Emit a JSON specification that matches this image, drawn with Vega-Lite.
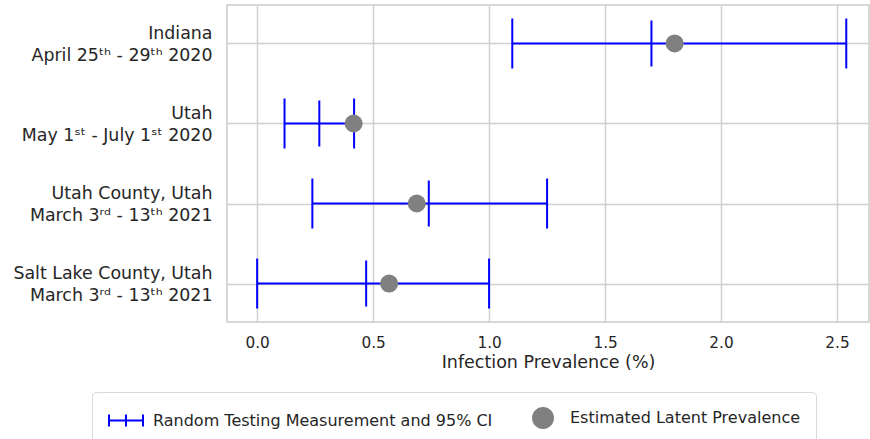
{
  "$schema": "https://vega.github.io/schema/vega-lite/v6.json",
  "width": 642,
  "height": 317,
  "autosize": {"type": "none"},
  "padding": {"left": 227, "top": 5, "right": 1, "bottom": 117},
  "background": "white",
  "config": {
    "font": "DejaVu Sans",
    "view": {"stroke": "#cccccc", "strokeWidth": 1.5},
    "axis": {
      "gridColor": "#d0d0d0",
      "gridWidth": 1.5,
      "domain": false,
      "ticks": false,
      "tickSize": 0,
      "labelColor": "#262626",
      "titleColor": "#262626"
    },
    "legend": {
      "orient": "none",
      "legendX": -135,
      "legendY": 387,
      "direction": "horizontal",
      "padding": 15,
      "strokeColor": "#d9d9d9",
      "cornerRadius": 4,
      "fillColor": "white",
      "symbolSize": 400,
      "symbolStrokeWidth": 2,
      "symbolOpacity": 1,
      "labelFontSize": 16,
      "labelColor": "#262626",
      "labelOffset": 24,
      "labelLimit": 500,
      "columnPadding": 31
    }
  },
  "data": {
    "values": [
      {"study": "Indiana\nApril 25ᵗʰ - 29ᵗʰ 2020", "low": 1.10, "mid": 1.70, "high": 2.54, "est": 1.80},
      {"study": "Utah\nMay 1ˢᵗ - July 1ˢᵗ 2020", "low": 0.118, "mid": 0.268, "high": 0.418, "est": 0.416},
      {"study": "Utah County, Utah\nMarch 3ʳᵈ - 13ᵗʰ 2021", "low": 0.238, "mid": 0.74, "high": 1.25, "est": 0.688},
      {"study": "Salt Lake County, Utah\nMarch 3ʳᵈ - 13ᵗʰ 2021", "low": 0.0, "mid": 0.47, "high": 1.0, "est": 0.569}
    ]
  },
  "encoding": {
    "y": {
      "field": "study",
      "type": "nominal",
      "sort": null,
      "scale": {"type": "point", "padding": 0.481},
      "axis": {
        "title": null,
        "grid": true,
        "labelExpr": "split(datum.label, '\\n')",
        "labelFontSize": 17.4,
        "labelLineHeight": 22,
        "labelAlign": "right",
        "labelBaseline": "middle",
        "labelPadding": 15,
        "labelOffset": -10,
        "labelLimit": 400
      }
    }
  },
  "layer": [
    {
      "mark": {"type": "rule", "color": "#0000ff", "strokeWidth": 2},
      "encoding": {
        "x": {
          "field": "low",
          "type": "quantitative",
          "scale": {"domain": [-0.13, 2.638], "nice": false, "zero": false},
          "axis": {
            "title": "Infection Prevalence (%)",
            "values": [0, 0.5, 1, 1.5, 2, 2.5],
            "format": ".1f",
            "grid": true,
            "labelFontSize": 15.3,
            "labelPadding": 13,
            "titleFontSize": 17.5,
            "titleFontWeight": "normal",
            "titlePadding": 3
          }
        },
        "x2": {"field": "high"}
      }
    },
    {
      "mark": {"type": "tick", "color": "#0000ff", "thickness": 2, "size": 50, "orient": "vertical", "opacity": 1},
      "encoding": {"x": {"field": "low", "type": "quantitative"}}
    },
    {
      "mark": {"type": "tick", "color": "#0000ff", "thickness": 2, "size": 50, "orient": "vertical", "opacity": 1},
      "encoding": {"x": {"field": "high", "type": "quantitative"}}
    },
    {
      "mark": {"type": "tick", "color": "#0000ff", "thickness": 2, "size": 46, "orient": "vertical", "opacity": 1},
      "encoding": {"x": {"field": "mid", "type": "quantitative"}}
    },
    {
      "mark": {"type": "point", "filled": true, "size": 324, "opacity": 1, "shape": "circle", "color": "#808080"},
      "encoding": {"x": {"field": "est", "type": "quantitative"}}
    },
    {
      "mark": {"type": "point", "filled": true, "size": 324, "opacity": 0},
      "encoding": {
        "x": {"field": "est", "type": "quantitative"},
        "color": {
          "datum": "Estimated Latent Prevalence",
          "type": "nominal",
          "scale": {
            "domain": ["Random Testing Measurement and 95% CI", "Estimated Latent Prevalence"],
            "range": ["#0000ff", "#808080"]
          },
          "legend": {"title": null}
        },
        "shape": {
          "datum": "Estimated Latent Prevalence",
          "type": "nominal",
          "scale": {
            "domain": ["Random Testing Measurement and 95% CI", "Estimated Latent Prevalence"],
            "range": ["M-0.9,0H2.5M-0.9,-0.6V0.6M0.8,-0.6V0.6M2.5,-0.6V0.6", "M-0.3,0A1.1,1.1,0,1,0,1.9,0A1.1,1.1,0,1,0,-0.3,0Z"]
          },
          "legend": {"title": null}
        },
        "stroke": {
          "datum": "Estimated Latent Prevalence",
          "type": "nominal",
          "scale": {
            "domain": ["Random Testing Measurement and 95% CI", "Estimated Latent Prevalence"],
            "range": ["#0000ff", "transparent"]
          },
          "legend": {"title": null}
        }
      }
    }
  ]
}
